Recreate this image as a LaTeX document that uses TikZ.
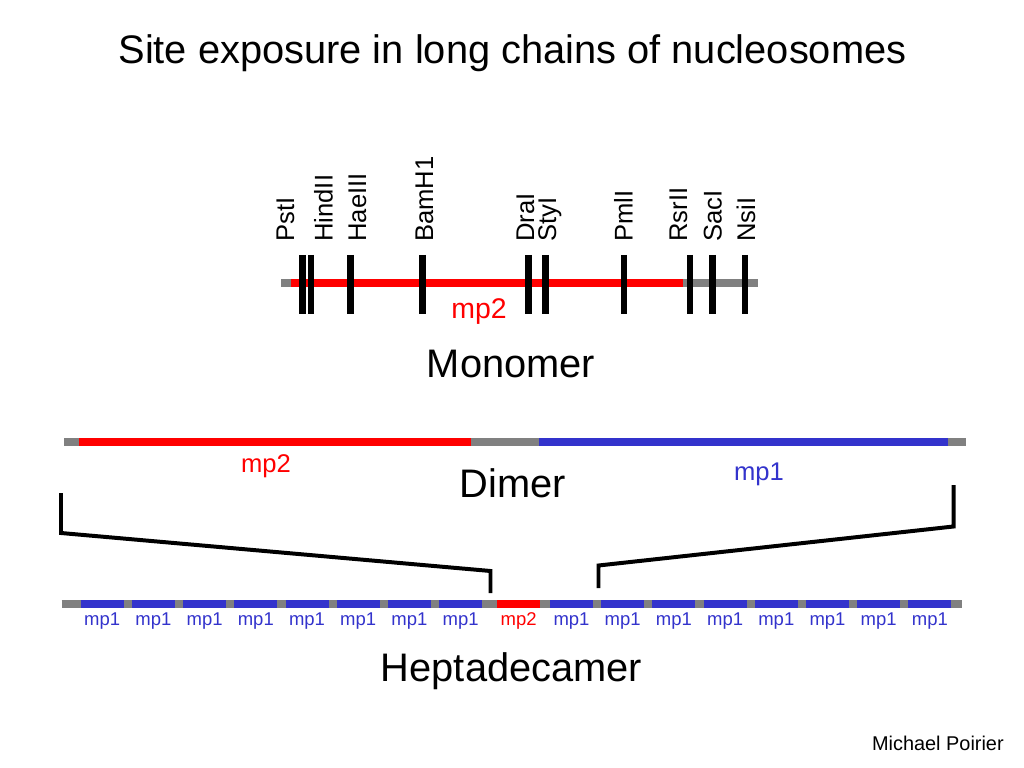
\documentclass[tikz,border=0pt]{standalone}
\usepackage{fontspec}
\setmainfont{Liberation Sans}
\definecolor{myred}{RGB}{255,0,0}
\definecolor{myblue}{RGB}{51,51,204}
\definecolor{mygray}{RGB}{128,128,128}
\begin{document}
\begin{tikzpicture}[x=0.703125pt,y=-0.703125pt,
  bar/.style={line width=5.6pt},
  cutmark/.style={line width=4.9pt, black},
  bracketline/.style={line width=2.8pt, line join=miter, black},
  lab/.style={inner sep=0pt, anchor=base},
  big/.style={lab, font=\fontsize{28}{30}\selectfont},
  site/.style={inner sep=0pt, anchor=base west, rotate=90, font=\fontsize{18}{20}\selectfont},
  small/.style={lab, font=\fontsize{13}{14}\selectfont}]
\useasboundingbox (0,0) rectangle (1024,768);

% title
\node[big] (title) at (512.5,64) {Site exposure in long chains of nucleosomes};

% ---- Monomer ----
\draw[bar, mygray] (281,283) -- (758,283);
\draw[bar, myred] (291,283) -- (683,283);
\foreach \x in {302.7,311,350.7,422.3,528.7,545.7,624,690,712.3,745}
  \draw[cutmark] (\x,255) -- (\x,314);
\node[site] (pst)  at (294,242)   {PstI};
\node[site] (hind) at (332.7,242) {HindII};
\node[site] (hae)  at (366,242)   {HaeIII};
\node[site] (bam)  at (433,242)   {BamH1};
\node[site] (dra)  at (534,242)   {DraI};
\node[site] (sty)  at (556,242)   {StyI};
\node[site] (pml)  at (632.7,242) {PmlI};
\node[site] (rsr)  at (687,242)   {RsrII};
\node[site] (sac)  at (721.7,242) {SacI};
\node[site] (nsi)  at (755,242)   {NsiI};
\node[lab, text=myred, font=\fontsize{20}{22}\selectfont] (mmp2) at (479,318.5) {mp2};
\node[big] (monomer) at (511,377.7) {Monomer};

% ---- Dimer ----
\draw[bar, mygray] (64,441.7) -- (966,441.7);
\draw[bar, myred] (79,441.7) -- (470.5,441.7);
\draw[bar, myblue] (539,441.7) -- (948,441.7);
\node[lab, text=myred, font=\fontsize{18}{20}\selectfont] (dmp2) at (266,472) {mp2};
\node[lab, text=myblue, font=\fontsize{18}{20}\selectfont] (dmp1) at (759,480) {mp1};
\node[big] (dimer) at (513,497) {Dimer};

% brackets
\draw[bracketline] (61,493) -- (61,533) -- (490.5,571) -- (490.5,593);
\draw[bracketline] (953.5,485) -- (953.5,526.5) -- (598.5,565.5) -- (598.5,588);

% ---- Heptadecamer ----
\draw[bar, mygray] (61.7,604) -- (962.3,604);
\foreach \i in {0,...,7}{
  \pgfmathsetmacro{\s}{80.7+51.2*\i}
  \draw[bar, myblue] (\s,604) -- ({\s+43},604);
  \node[small, text=myblue] (l\i) at ({\s+21.5},625) {mp1};
  \pgfmathsetmacro{\r}{550+51.2*\i}
  \draw[bar, myblue] (\r,604) -- ({\r+43},604);
  \node[small, text=myblue] (r\i) at ({\r+21.5},625) {mp1};
}
\draw[bar, myred] (497.3,604) -- (540,604);
\node[small, text=myred] (hmp2) at (518.7,625) {mp2};
\node[big] (hepta) at (511.5,681.7) {Heptadecamer};

% author
\node[inner sep=0pt, anchor=base east, font=\fontsize{14}{16}\selectfont] (author) at (1004,750) {Michael Poirier};
\end{tikzpicture}
\end{document}
